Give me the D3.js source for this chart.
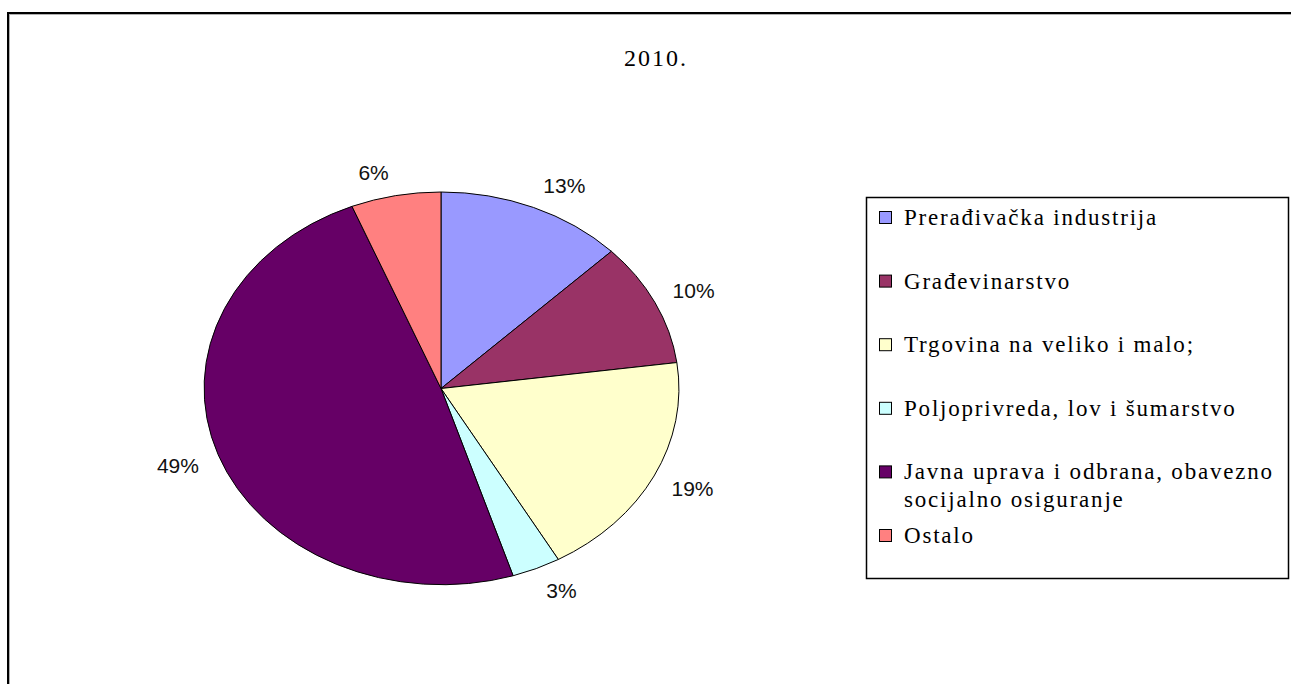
<!DOCTYPE html>
<html>
<head>
<meta charset="utf-8">
<script src="https://cdn.jsdelivr.net/npm/d3@7"></script>
<style>
  html, body { margin: 0; padding: 0; background: #fff; }
  svg { display: block; }
</style>
</head>
<body>
<svg id="chart" width="1291" height="684"></svg>
<script>
const title = '2010.';
const categories = [
  'Prerađivačka industrija',
  'Građevinarstvo',
  'Trgovina na veliko i malo;',
  'Poljoprivreda, lov i šumarstvo',
  'Javna uprava i odbrana, obavezno socijalno osiguranje',
  'Ostalo'
];
const values = [12.7, 10.2, 18.9, 3.3, 48.8, 6.1];
const labels = ['13%', '10%', '19%', '3%', '49%', '6%'];
const legendLines = [
  ['Prerađivačka industrija'],
  ['Građevinarstvo'],
  ['Trgovina na veliko i malo;'],
  ['Poljoprivreda, lov i šumarstvo'],
  ['Javna uprava i odbrana, obavezno', 'socijalno osiguranje'],
  ['Ostalo']
];
const colors = ['#9999ff', '#993366', '#ffffcc', '#ccffff', '#660066', '#ff8080'];

const svg = d3.select('#chart');
const width = 1291;
const height = 684;

// outer frame (runs off the right and bottom edge)
svg.append('rect')
  .attr('x', 8).attr('y', 13)
  .attr('width', width + 20).attr('height', height + 20)
  .attr('fill', 'none')
  .attr('stroke', '#000')
  .attr('stroke-width', 2);
svg.append('rect')
  .attr('x', 9.5).attr('y', 14.5)
  .attr('width', width + 20).attr('height', height + 20)
  .attr('fill', 'none')
  .attr('stroke', '#b0b0b0')
  .attr('stroke-width', 1);

svg.append('text')
  .attr('x', 656).attr('y', 66)
  .attr('text-anchor', 'middle')
  .style('font-family', '"Liberation Serif", serif')
  .style('font-size', '24px')
  .style('letter-spacing', '2px')
  .text(title);

// pie, drawn on a unit circle and stretched into the ellipse
const cx = 441, cy = 388.5, rx = 238, ry = 196.5;
const pie = d3.pie().sort(null).value(d => d);
const arcs = pie(values);
const arc = d3.arc().innerRadius(0).outerRadius(1);

const pieG = svg.append('g')
  .attr('transform', `translate(${cx},${cy}) scale(${rx},${ry})`);

pieG.selectAll('path')
  .data(arcs)
  .enter()
  .append('path')
  .attr('d', arc)
  .attr('fill', (d, i) => colors[i])
  .attr('stroke', '#000')
  .attr('stroke-width', 1)
  .attr('vector-effect', 'non-scaling-stroke');

// percent labels outside the slices
const labelG = svg.append('g');
arcs.forEach((d, i) => {
  const a = (d.startAngle + d.endAngle) / 2;
  const s = Math.sin(a), c = Math.cos(a);
  const t = labelG.append('text')
    .attr('text-anchor', 'middle')
    .attr('dominant-baseline', 'central')
    .style('font-family', '"Liberation Sans", Arial, sans-serif')
    .style('font-size', '21px')
    .attr('fill', '#111')
    .text(labels[i]);
  const halfW = t.node().getComputedTextLength() / 2;
  const halfH = 9;
  const ex = cx + rx * s, ey = cy - ry * c;
  const lx = ex + Math.sign(s) * (halfW + 4 + 15 * Math.abs(s));
  const ly = ey - Math.sign(c) * (halfH + 15 * c * c);
  t.attr('x', lx).attr('y', ly);
});

// legend
const lg = { x: 866, y: 197, w: 422, h: 381 };
svg.append('rect')
  .attr('x', lg.x + 0.5).attr('y', lg.y + 0.5)
  .attr('width', lg.w).attr('height', lg.h)
  .attr('fill', '#fff')
  .attr('stroke', '#000')
  .attr('stroke-width', 1.5);

const rowY = d3.scaleLinear().domain([0, 1]).range([218, 281.6]);
const lineH = 28;

const items = svg.append('g').selectAll('g')
  .data(categories)
  .enter()
  .append('g')
  .attr('transform', (d, i) => `translate(${lg.x}, ${rowY(i)})`);

items.append('rect')
  .attr('x', 13.5).attr('y', -6.5)
  .attr('width', 12).attr('height', 12)
  .attr('fill', (d, i) => colors[i])
  .attr('stroke', '#000')
  .attr('stroke-width', 1);

items.each(function (d, i) {
  const t = d3.select(this).append('text')
    .attr('x', 38)
    .style('font-family', '"Liberation Serif", serif')
    .style('font-size', '23px')
    .style('letter-spacing', '1.8px')
    .attr('fill', '#000');
  legendLines[i].forEach((line, j) => {
    t.append('tspan')
      .attr('x', 38)
      .attr('y', 7 + j * lineH)
      .text(line);
  });
});
</script>
</body>
</html>
